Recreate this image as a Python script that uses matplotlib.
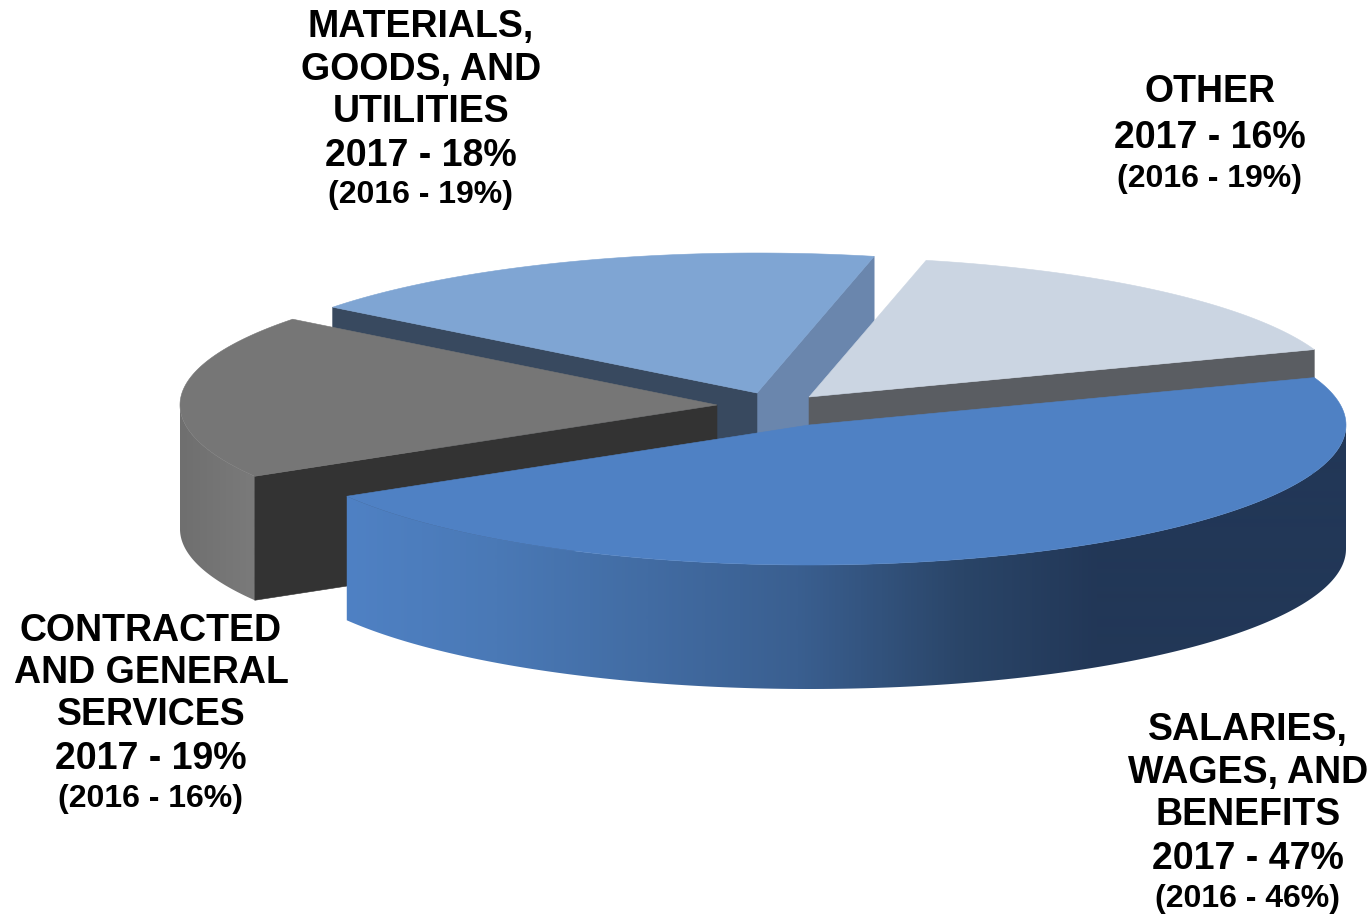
import numpy as np
import matplotlib
matplotlib.use("Agg")
import matplotlib.pyplot as plt
from matplotlib.patches import Polygon
from matplotlib.colors import LinearSegmentedColormap

categories = ["Salaries", "Contracted", "Materials", "Other"]
values_2017 = [47, 19, 18, 16]

label_salaries = ["SALARIES,", "WAGES, AND", "BENEFITS", "2017 - 47%", "(2016 - 46%)"]
label_other = ["OTHER", "2017 - 16%", "(2016 - 19%)"]
label_materials = ["MATERIALS,", "GOODS, AND", "UTILITIES", "2017 - 18%", "(2016 - 19%)"]
label_contracted = ["CONTRACTED", "AND GENERAL", "SERVICES", "2017 - 19%", "(2016 - 16%)"]

# Layout (pixels)
RX, RY, DEPTH = 537, 140, 124
START = 19.8
centres = {"Salaries": (809, 425), "Other": (809, 397),
           "Materials": (757, 393), "Contracted": (717, 405)}

fracs = np.array(values_2017) / sum(values_2017) * 360
ends = START - np.cumsum(fracs)
starts = ends + fracs
ang = {c: (s, e) for c, s, e in zip(categories, starts, ends)}


def pt(c, a):
    cx, cy = centres[c]
    a = np.radians(a)
    return np.column_stack([cx + RX * np.cos(a), cy - RY * np.sin(a)])


def arc(c, a0, a1, n=200):
    return pt(c, np.linspace(a0, a1, n))


def top(c):
    s, e = ang[c]
    return np.vstack([[centres[c]], arc(c, s, e)])


def side_cut(c, a):
    p0 = np.array(centres[c], float)
    p1 = pt(c, a)[0]
    return np.array([p0, p1, p1 + [0, DEPTH], p0 + [0, DEPTH]])


def outer_wall(c, a0, a1):
    a = arc(c, a0, a1)
    return np.vstack([a, a[::-1] + [0, DEPTH]])


fig = plt.figure(figsize=(13.7, 9.14), dpi=100, facecolor="white")
ax = fig.add_axes([0, 0, 1, 1])


def poly(xy, color, z):
    ax.add_patch(Polygon(xy, closed=True, fc=color, ec=color, lw=0.4, zorder=z))


def gradient(xy, stops, x0, x1, z):
    cmap = LinearSegmentedColormap.from_list("g", stops)
    t = np.clip((np.arange(1370) + 0.5 - x0) / (x1 - x0), 0, 1)
    im = ax.imshow(t[None, :], cmap=cmap, vmin=0, vmax=1, aspect="auto",
                   extent=[0, 1370, 914, 0], zorder=z, interpolation="bilinear")
    clip = Polygon(xy, closed=True, transform=ax.transData)
    im.set_clip_path(clip)


# Materials
s, e = ang["Materials"]
poly(side_cut("Materials", e), "#6a86ad", 1)
poly(side_cut("Materials", s), "#38495f", 1)
poly(top("Materials"), "#7fa5d3", 2)

# Contracted: only the part of the rim below the left extreme faces the viewer
s, e = ang["Contracted"]
gradient(outer_wall("Contracted", -180, s), ["#6f6f6f", "#7a7a7a"], 180, 253, 3)
poly(side_cut("Contracted", s), "#333333", 3.5)
poly(top("Contracted"), "#767676", 4)

# Other
s, e = ang["Other"]
poly(side_cut("Other", e), "#5a5d62", 5)
poly(top("Other"), "#cbd5e2", 6)

# Salaries
s, e = ang["Salaries"]
gradient(outer_wall("Salaries", 0, e),
         [(0.0, "#4f81c4"), (0.2, "#4a79b6"), (0.6, "#3a5f90"), (0.82, "#2a4568"), (1.0, "#223757")],
         345, 1100, 7)
poly(top("Salaries"), "#4f81c4", 8)


def write_label(lines, x, ys, sizes):
    for line, y, size in zip(lines, ys, sizes):
        ax.text(x, y, line, ha="center", va="center_baseline", fontsize=size,
                fontweight="bold", family="Liberation Sans", color="black", zorder=10)


BIG, SMALL = 27, 23
write_label(label_materials, 421, [23, 66, 108, 152, 192], [BIG, BIG, BIG, BIG, SMALL])
write_label(label_other, 1210, [88, 134, 176], [BIG, BIG, SMALL])
write_label(label_contracted, 151, [627, 669, 711, 755, 796], [BIG, BIG, BIG, BIG, SMALL])
write_label(label_salaries, 1248, [726, 769, 811, 855, 895], [BIG, BIG, BIG, BIG, SMALL])

ax.set_xlim(0, 1370)
ax.set_ylim(914, 0)
ax.axis("off")
fig.savefig("out.png", dpi=100)
